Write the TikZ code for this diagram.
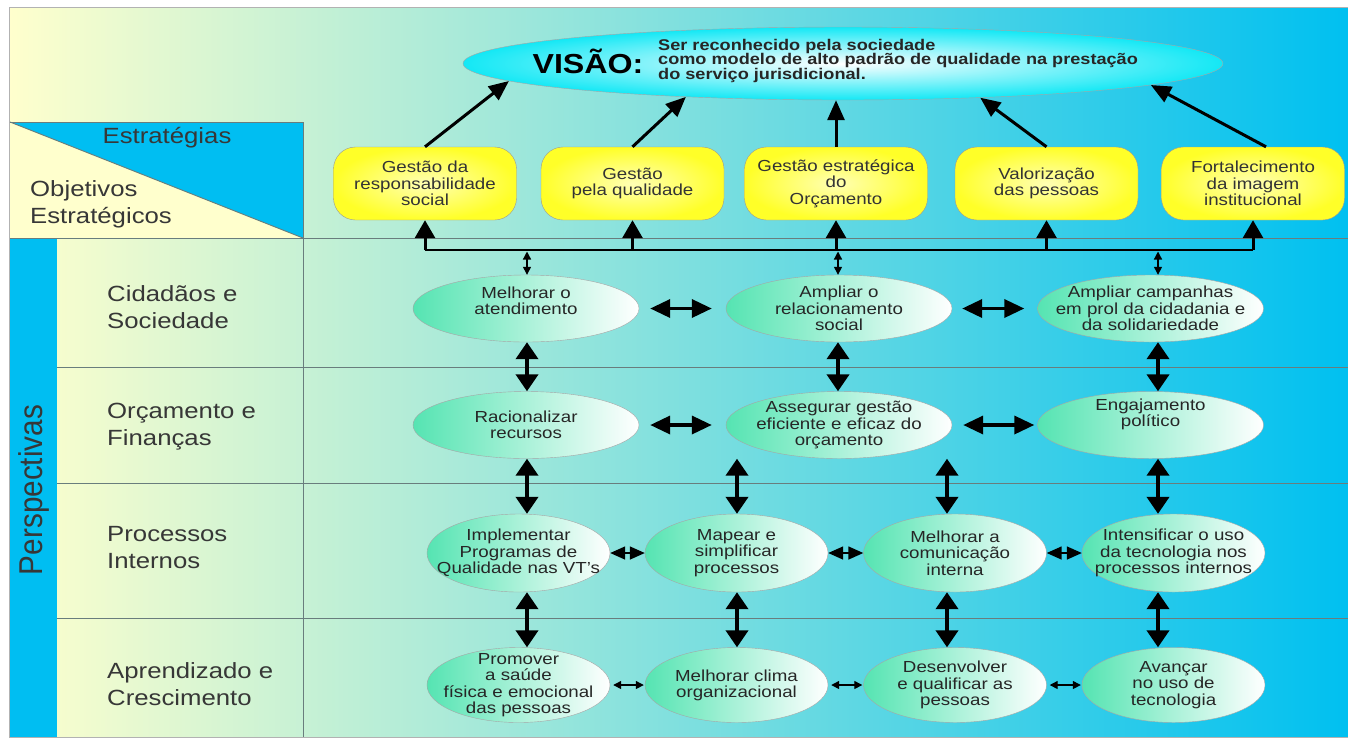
\documentclass[tikz,border=0pt]{standalone}
\usepackage{fontspec}
\setmainfont[FakeStretch=1.17]{Liberation Sans}
\newfontfamily\vertfont[FakeStretch=0.9]{Liberation Sans}
\usetikzlibrary{arrows.meta,shapes.geometric,positioning}

\definecolor{paleyellow}{RGB}{255,255,205}
\definecolor{deepcyan}{RGB}{0,192,240}
\definecolor{stripblue}{RGB}{0,190,242}
\definecolor{mint}{RGB}{85,228,178}
\definecolor{boxyellow}{RGB}{255,255,40}
\definecolor{visioncyan}{RGB}{20,232,245}
\definecolor{gridgray}{RGB}{105,125,125}
\definecolor{labelgray}{RGB}{55,55,55}

\tikzset{
	gridline/.style={draw=gridgray, line width=0.9pt},
	headtext/.style={inner sep=0pt, text=labelgray, font=\fontsize{22}{27}\selectfont},
	vision/.style={ellipse, draw=gray!70, inner color=white, outer color=visioncyan,
			minimum width=760, minimum height=73, inner sep=0pt},
	strategy/.style={rectangle, rounded corners=22pt, draw=gray!80, inner color=boxyellow!35,
			outer color=boxyellow, minimum width=183, minimum height=73, inner sep=0pt,
			align=center, text=black!80, font=\fontsize{16}{16.5}\selectfont},
	objective/.style={ellipse, draw=gray!70, left color=mint, right color=white, inner sep=-40pt,
			align=center, text=black!85, font=\fontsize{16}{16.3}\selectfont},
	objwide/.style={objective, minimum width=226, minimum height=67},
	objround/.style={objective, minimum width=183, minimum height=78},
	toarrow/.style={-{Triangle[length=20pt,width=17pt]}, line width=3pt},
	busline/.style={line width=2.5pt},
	busarrow/.style={-{Triangle[length=18pt,width=20pt]}, line width=3pt},
	vdouble/.style={{Triangle[length=17pt,width=22pt]}-{Triangle[length=17pt,width=22pt]}, line width=4pt},
	hdouble/.style={{Triangle[length=20pt,width=18pt]}-{Triangle[length=20pt,width=18pt]}, line width=3.5pt},
	linkdouble/.style={{Triangle[length=15pt,width=13pt]}-{Triangle[length=15pt,width=13pt]}, line width=1.5pt},
	tinydouble/.style={{Triangle[length=8pt,width=8pt]}-{Triangle[length=8pt,width=8pt]}, line width=1.3pt}
}

\begin{document}
\begin{tikzpicture}[x=1pt, y=-1pt]
	\useasboundingbox (0,0) rectangle (1348,740);
	\fill[white] (0,0) rectangle (1348,740);

	% Background with the colour fade
	\shade[left color=paleyellow, right color=deepcyan, draw=gray!60] (9,7) rectangle (1348,737);

	% Header corner split along the diagonal
	\fill[paleyellow] (10,122) rectangle (303,238);
	\fill[stripblue] (10,122) -- (303,122) -- (303,238) -- cycle;
	\draw[gridline] (10,122) -- (303,122) -- (303,737);
	\draw[gridline] (10,122) -- (303,238);

	% Perspective strip and row separators
	\fill[stripblue] (10,238) rectangle (57,737);
	\foreach \y in {367,483,618} {
		\draw[gridline] (57,\y) -- (1348,\y);
	}
	\draw[gridline] (10,238) -- (1348,238);

	% Header and row labels
	\node[headtext, anchor=base] (estrat) at (167,143) {Estratégias};
	\node[headtext, anchor=west, align=left] (objet) at (30,204) {Objetivos\\Estratégicos};
	\node[rotate=90, inner sep=0pt, text=labelgray, font=\vertfont\fontsize{33}{33}\selectfont] (persp) at (34,490) {Perspectivas};
	\node[headtext, anchor=west, align=left] (cidad) at (107,307) {Cidadãos e\\Sociedade};
	\node[headtext, anchor=west, align=left] (orcam) at (107,427) {Orçamento e\\Finanças};
	\node[headtext, anchor=west, align=left] (proce) at (107,548) {Processos\\Internos};
	\node[headtext, anchor=west, align=left] (apren) at (107,684) {Aprendizado e\\Crescimento};

	% Vision
	\node[vision] (vis) at (843,63.5) {};
	\node[anchor=base, inner sep=0pt, font=\bfseries\fontsize{27.5}{28}\selectfont] (vislbl) at (588,73) {VISÃO:};
	\node[anchor=west, align=left, inner sep=0pt, text=black!85, font=\bfseries\fontsize{15.5}{14.5}\selectfont] (vistxt) at (658,60.5)
		{Ser reconhecido pela sociedade\\como modelo de alto padrão de qualidade na prestação\\do serviço jurisdicional.};

	% Strategies
	\node[strategy] (b1) at (425,183.5) {Gestão da\\responsabilidade\\social};
	\node[strategy] (b2) at (632.5,183.5) {Gestão\\pela qualidade};
	\node[strategy] (b3) at (836,183.5) {Gestão estratégica\\do\\Orçamento};
	\node[strategy] (b4) at (1046.5,183.5) {Valorização\\das pessoas};
	\node[strategy] (b5) at (1253,183.5) {Fortalecimento\\da imagem\\institucional};

	% Objectives, one row for each perspective
	\node[objwide] (r1a) at (526,308.5) {Melhorar o\\atendimento\\\mbox{}};
	\node[objwide] (r1b) at (839,308.5) {Ampliar o\\relacionamento\\social};
	\node[objwide] (r1c) at (1150.5,308.5) {Ampliar campanhas\\em prol da cidadania e\\da solidariedade};

	\node[objwide] (r2a) at (526,425) {Racionalizar\\recursos};
	\node[objwide] (r2b) at (839,425) {Assegurar gestão\\eficiente e eficaz do\\orçamento};
	\node[objwide] (r2c) at (1150.5,425) {Engajamento\\político\\[9pt]\mbox{}};

	\node[objround] (r3a) at (518.5,553) {Implementar\\Programas de\\Qualidade nas VT's};
	\node[objround] (r3b) at (736.5,553) {Mapear e\\simplificar\\processos};
	\node[objround] (r3c) at (955,553) {Melhorar a\\comunicação\\interna};
	\node[objround] (r3d) at (1173.5,553) {Intensificar o uso\\da tecnologia nos\\processos internos};

	\node[objround, minimum height=75] (r4a) at (518.5,685) {Promover\\a saúde\\física e emocional\\das pessoas};
	\node[objround, minimum height=75] (r4b) at (736.5,685) {Melhorar clima\\organizacional};
	\node[objround, minimum height=75] (r4c) at (955,685) {Desenvolver\\e qualificar as\\pessoas};
	\node[objround, minimum height=75] (r4d) at (1173.5,685) {Avançar\\no uso de\\tecnologia};

	% Columns for the vertical links
	\coordinate (bus) at (836,250);
	\coordinate (ca) at (527,0);
	\coordinate (cb) at (737,0);
	\coordinate (cm) at (838,0);
	\coordinate (cc) at (947,0);
	\coordinate (cd) at (1158,0);

	% Strategies up to the vision
	\draw[toarrow] (b1.north) -- (vis.183.9);
	\draw[toarrow] (b2.north) -- (vis.192.8);
	\draw[toarrow] (b3.north) -- (b3.north |- vis.south);
	\draw[toarrow] (b4.north) -- (vis.346.9);
	\draw[toarrow] ([xshift=13pt]b5.north) -- (vis.356.3);

	% Bus feeding the strategies
	\draw[busline] (b1.south |- bus) -- (b5.south |- bus);
	\foreach \b in {b1,b2,b3,b4,b5} {
		\draw[busarrow] (\b.south |- bus) -- (\b.south);
	}
	\foreach \o/\c in {r1a/ca, r1b/cm, r1c/cd} {
		\draw[tinydouble, shorten <=1.5pt] (bus -| \c) -- (\o.north -| \c);
	}

	% Links between the rows
	\foreach \u/\d/\c in {r1a/r2a/ca, r1b/r2b/cm, r1c/r2c/cd,
			r2a/r3a/ca, r2a/r3b/cb, r2b/r3c/cc, r2c/r3d/cd,
			r3a/r4a/ca, r3b/r4b/cb, r3c/r4c/cc, r3d/r4d/cd} {
		\draw[vdouble] (\u.south -| \c) -- (\d.north -| \c);
	}

	% Links inside the rows
	\draw[hdouble] ([xshift=11pt]r1a.east) -- ([xshift=-14pt]r1b.west);
	\draw[hdouble] ([xshift=10pt]r1b.east) -- ([xshift=-13pt]r1c.west);
	\draw[hdouble] ([xshift=11pt]r2a.east) -- ([xshift=-14pt]r2b.west);
	\draw[hdouble] ([xshift=11pt]r2b.east) -- ([xshift=-3pt]r2c.west);
	\foreach \l/\r in {r3a/r3b, r3b/r3c, r3c/r3d} {
		\draw[linkdouble] (\l) -- (\r);
	}
	\foreach \l/\r in {r4a/r4b, r4b/r4c, r4c/r4d} {
		\draw[tinydouble, shorten <=3pt, shorten >=1pt] (\l) -- (\r);
	}
\end{tikzpicture}
\end{document}
